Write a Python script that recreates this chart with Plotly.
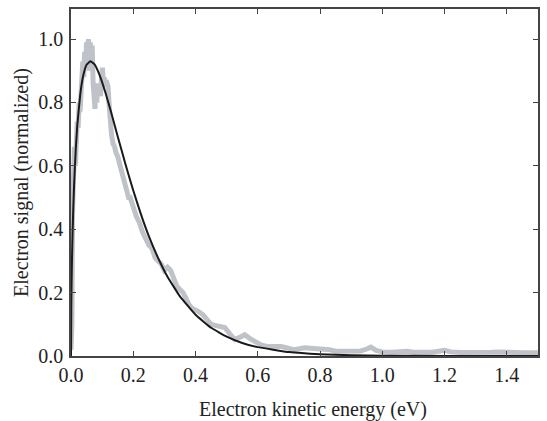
import plotly.graph_objects as go

# Measured electron signal (gray)
data_x = [0.000, 0.003, 0.005, 0.007, 0.009, 0.011, 0.014, 0.017, 0.020, 0.023, 0.026, 0.029,
          0.032, 0.035, 0.038, 0.041, 0.044, 0.047, 0.050, 0.053, 0.056, 0.059, 0.062, 0.065,
          0.068, 0.071, 0.074, 0.077, 0.080, 0.083, 0.086, 0.089, 0.092, 0.095, 0.098, 0.101,
          0.104, 0.107, 0.110, 0.113, 0.116, 0.119, 0.122, 0.126, 0.130, 0.135, 0.140, 0.145,
          0.150, 0.155, 0.160, 0.165, 0.170, 0.175, 0.180, 0.185, 0.190, 0.195, 0.200, 0.210,
          0.220, 0.230, 0.240, 0.250, 0.260, 0.270, 0.280, 0.290, 0.300, 0.310, 0.320, 0.330,
          0.340, 0.350, 0.360, 0.370, 0.380, 0.390, 0.400, 0.410, 0.424, 0.440, 0.450, 0.470,
          0.494, 0.510, 0.526, 0.540, 0.558, 0.575, 0.590, 0.610, 0.630, 0.650, 0.675, 0.700,
          0.717, 0.750, 0.780, 0.800, 0.830, 0.850, 0.870, 0.900, 0.930, 0.950, 0.963, 0.980,
          1.000, 1.030, 1.060, 1.080, 1.100, 1.130, 1.160, 1.200, 1.220, 1.250, 1.300, 1.350,
          1.380, 1.400, 1.450, 1.500]
data_y = [0.02, 0.10, 0.45, 0.62, 0.55, 0.66, 0.60, 0.68, 0.74, 0.72, 0.80, 0.77,
          0.86, 0.84, 0.93, 0.88, 0.96, 0.92, 0.99, 0.95, 1.00, 0.90, 0.99, 0.93,
          0.98, 0.86, 0.80, 0.78, 0.84, 0.80, 0.86, 0.82, 0.85, 0.82, 0.88, 0.91,
          0.86, 0.88, 0.85, 0.87, 0.86, 0.85, 0.80, 0.74, 0.70, 0.67, 0.66, 0.64,
          0.63, 0.61, 0.59, 0.57, 0.56, 0.54, 0.52, 0.50, 0.50, 0.48, 0.47, 0.44,
          0.42, 0.39, 0.37, 0.35, 0.34, 0.31, 0.30, 0.29, 0.27, 0.28, 0.27, 0.24,
          0.22, 0.21, 0.20, 0.18, 0.16, 0.15, 0.146, 0.14, 0.13, 0.11, 0.10, 0.095,
          0.09, 0.07, 0.052, 0.058, 0.067, 0.055, 0.045, 0.035, 0.03, 0.03, 0.03, 0.024,
          0.02, 0.026, 0.024, 0.022, 0.02, 0.015, 0.015, 0.014, 0.016, 0.022, 0.028, 0.018,
          0.013, 0.012, 0.014, 0.015, 0.012, 0.011, 0.012, 0.018, 0.013, 0.011, 0.010, 0.012,
          0.013, 0.011, 0.010, 0.010]

# Fitted curve (black)
fit_x = [0.0, 0.001, 0.002, 0.003, 0.005, 0.0075, 0.010, 0.015, 0.020, 0.030, 0.040,
         0.050, 0.062, 0.075, 0.090, 0.110, 0.130, 0.150, 0.175, 0.200, 0.225, 0.250,
         0.280, 0.310, 0.350, 0.400, 0.450, 0.500, 0.550, 0.600, 0.700, 0.800, 0.900,
         1.000, 1.200, 1.500]
fit_y = [0.0, 0.166, 0.240, 0.297, 0.386, 0.472, 0.541, 0.647, 0.725, 0.828, 0.888,
         0.919, 0.930, 0.921, 0.891, 0.833, 0.765, 0.693, 0.605, 0.522, 0.446, 0.378,
         0.309, 0.250, 0.188, 0.130, 0.089, 0.061, 0.041, 0.028, 0.0125, 0.0055, 0.0024,
         0.0011, 0.0002, 0.0]

x_ticks = [0.0, 0.2, 0.4, 0.6, 0.8, 1.0, 1.2, 1.4]
y_ticks = [0.0, 0.2, 0.4, 0.6, 0.8, 1.0]
x_title = "Electron kinetic energy (eV)"
y_title = "Electron signal (normalized)"

fig = go.Figure()
fig.add_trace(go.Scatter(x=data_x, y=data_y, mode="lines",
                         line=dict(color="#bfc3c9", width=5), showlegend=False))
fig.add_trace(go.Scatter(x=fit_x, y=fit_y, mode="lines",
                         line=dict(color="#1a1a1a", width=2, shape="spline", smoothing=0.3),
                         showlegend=False))

font = dict(family="Liberation Serif, Times New Roman, serif", size=20, color="#222")
axis_common = dict(showgrid=False, zeroline=False, showline=True, linecolor="#444",
                   linewidth=1.5, mirror="ticks", ticks="inside", ticklen=5,
                   tickcolor="#444", tickwidth=1.2, tickfont=font)

fig.update_xaxes(range=[0, 1.5], tickvals=x_ticks,
                 ticktext=[f"{v:.1f}" for v in x_ticks], **axis_common)
fig.update_yaxes(range=[0, 1.095], tickvals=y_ticks,
                 ticktext=[f"{v:.1f}" for v in y_ticks],
                 ticklabelstandoff=2,
                 title=dict(text=y_title, font=font, standoff=4),
                 **axis_common)

fig.add_annotation(text=x_title, xref="paper", yref="paper", x=0.518, y=-0.155,
                   xanchor="center", yanchor="middle", showarrow=False, font=font)

fig.update_layout(width=547, height=421, margin=dict(l=71, r=7, t=7, b=65),
                  paper_bgcolor="white", plot_bgcolor="white", font=font)

fig.write_html("out.html")
